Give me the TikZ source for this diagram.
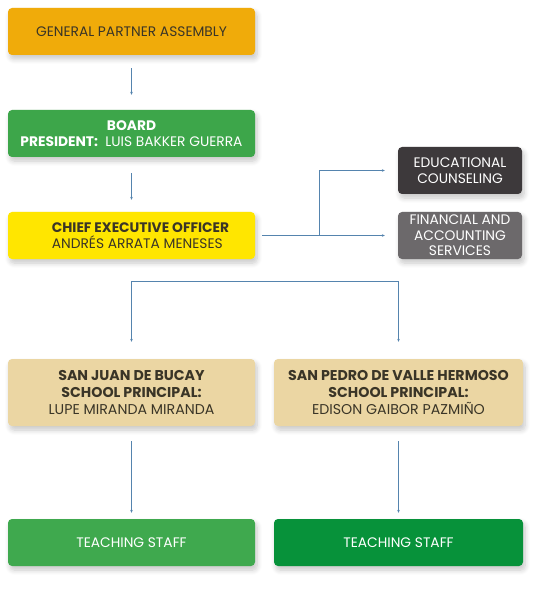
\documentclass[tikz,border=0pt]{standalone}
\usepackage{fontspec}
\setmainfont{Poppins}
\usetikzlibrary{arrows.meta,shadows.blur}
\definecolor{cAsm}{HTML}{F0AB0A}
\definecolor{cBoard}{HTML}{3DA64A}
\definecolor{cCeo}{HTML}{FFE600}
\definecolor{cEdu}{HTML}{3D393B}
\definecolor{cFin}{HTML}{6C696B}
\definecolor{cSch}{HTML}{EBD6A3}
\definecolor{cTchA}{HTML}{3FA94E}
\definecolor{cTchB}{HTML}{07923A}
\definecolor{cLine}{HTML}{5584AE}
\definecolor{cTxt}{HTML}{3A3527}
\begin{document}
\begin{tikzpicture}[x=1pt,y=-1pt,
  box/.style={rectangle, rounded corners=4pt, minimum width=247pt, minimum height=47pt, inner sep=0pt, align=center,
    blur shadow={shadow xshift=2pt, shadow yshift=-4pt, shadow blur steps=8, shadow blur radius=5pt, shadow opacity=22},
    font=\fontsize{13.8}{15.5}\selectfont},
  sbox/.style={box, minimum width=124pt, minimum height=47pt},
  conn/.style={draw=cLine, line width=0.6pt},
  arr/.style={conn, -{Stealth[length=3pt,width=2.6pt]}}
]
\useasboundingbox (0,0) rectangle (545,593);
\node[box, fill=cAsm, text=cTxt] (asm) at (131.5,31.5) {GENERAL PARTNER ASSEMBLY};
\node[box, fill=cBoard, text=white] (board) at (131.5,133.5) {\textbf{BOARD}\\\textbf{PRESIDENT:}\ \ LUIS BAKKER GUERRA};
\node[box, fill=cCeo, text=cTxt, align=left] (ceo) at (131.5,235.5) {\hspace*{18pt}\textbf{CHIEF EXECUTIVE OFFICER}\\\hspace*{18pt}ANDRÉS ARRATA MENESES};
\node[sbox, fill=cEdu, text=white] (edu) at (460,170.5) {EDUCATIONAL\\COUNSELING};
\node[sbox, fill=cFin, text=white] (fin) at (460,235.5) {FINANCIAL AND\\ACCOUNTING\\SERVICES};
\node[box, fill=cSch, text=cTxt, minimum height=67pt, font=\fontsize{14.2}{16.8}\selectfont] (s1) at (131.5,392.5) {\textbf{SAN JUAN DE BUCAY}\\\textbf{SCHOOL PRINCIPAL:}\\LUPE MIRANDA MIRANDA};
\node[box, fill=cSch, text=cTxt, minimum width=249pt, minimum height=67pt, font=\fontsize{14.2}{16.8}\selectfont] (s2) at (398.5,392.5) {\textbf{SAN PEDRO DE VALLE HERMOSO}\\\textbf{SCHOOL PRINCIPAL:}\\EDISON GAIBOR PAZMIÑO};
\node[box, fill=cTchA, text=white] (t1) at (131.5,542.5) {TEACHING STAFF};
\node[box, fill=cTchB, text=white, minimum width=249pt] (t2) at (398.5,542.5) {TEACHING STAFF};
% connectors
\draw[arr, shorten <=13pt, shorten >=15pt] (asm) -- (board);
\draw[arr, shorten <=16pt, shorten >=12pt] (board) -- (ceo);
\coordinate (br) at (319,235.5);
\draw[arr, shorten <=7pt, shorten >=13pt] (ceo) -- (fin);
\draw[arr, shorten >=13pt] (br) |- (edu);
\coordinate (jL) at (131.5,281);
\coordinate (jR) at (398.5,281);
\draw[conn] (jL) -- (jR);
\draw[arr, shorten >=17pt] (jL) -- (s1);
\draw[arr, shorten >=17pt] (jR) -- (s2);
\draw[arr, shorten <=15pt, shorten >=6pt] (s1) -- (t1);
\draw[arr, shorten <=15pt, shorten >=6pt] (s2) -- (t2);
\end{tikzpicture}
\end{document}
